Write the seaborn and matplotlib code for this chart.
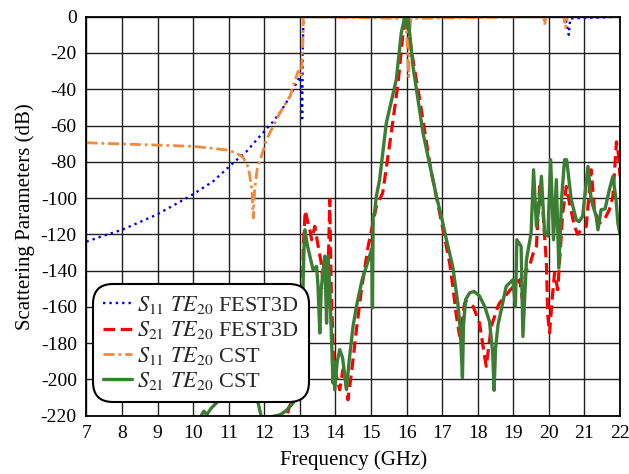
import numpy as np
import pandas as pd
import matplotlib
matplotlib.use("Agg")
import matplotlib.pyplot as plt
import seaborn as sns

# ---- data (frequency in GHz, magnitude in dB) ----
s11_fest_f = [7.0, 7.57, 8.0, 8.97, 9.91, 10.56, 11.12, 11.5, 11.87, 12.25, 12.44,
              12.72, 12.9, 13.0, 13.04, 13.065, 13.08, 13.1, 15.95, 16.0, 16.05,
              20.45, 20.5, 20.56, 20.6, 22.0]
s11_fest_db = [-124, -120.2, -117.5, -109.2, -99, -90.8, -80.7, -74.3, -66, -57.7, -53,
               -44, -36.6, -33, -40, -56, -20, 0, 0, -3, 0,
               0, -4, -10, -1, 0]

s21_fest_f = [12.55, 12.7, 12.85, 12.98, 13.05, 13.1, 13.15, 13.22, 13.28, 13.33, 13.42,
              13.5, 13.6, 13.65, 13.72, 13.8, 13.84, 13.88, 13.94, 13.98, 14.05, 14.12,
              14.21, 14.28, 14.35, 14.45, 14.59, 14.73, 14.92, 15.15, 15.33, 15.57,
              15.76, 15.9, 16.0, 16.13, 16.37, 16.65, 16.72, 17.02, 17.21, 17.3, 17.4,
              17.49, 17.55, 17.63, 17.68, 17.87, 18.05, 18.19, 18.24, 18.38, 18.57,
              18.61, 18.9, 19.18, 19.27, 19.35, 19.45, 19.55, 19.65, 19.74, 19.83,
              19.88, 19.93, 19.97, 20.02, 20.1, 20.16, 20.25, 20.39, 20.49, 20.58,
              20.72, 20.81, 20.91, 21.05, 21.19, 21.28, 21.42, 21.56, 21.7, 21.8,
              21.85, 21.9, 21.95, 22.0]
s21_fest_db = [-228, -215, -210, -200, -175, -125, -107, -113, -117.5, -123, -115.6,
               -125, -135.8, -146.8, -150, -135, -101, -150, -185, -194.6, -200, -205.7,
               -194.6, -200, -211.2, -196.5, -172.6, -150.5, -126.6, -104.6, -97, -64,
               -36.6, -9, 0, -18, -45.8, -80.7, -88, -117, -135.8, -148.7, -165,
               -176, -170, -158, -157, -159.7, -169, -187, -192.8, -170.8, -159.7,
               -158, -151, -145, -158, -140, -138, -131, -126.6, -93.6, -106.4,
               -121, -135.8, -165, -174.4, -154, -141.3, -150.5, -108, -93.6, -102.7,
               -115.6, -120, -117.5, -115.6, -84.4, -106.4, -113.8, -112, -106.4, -99,
               -84.4, -69, -75, -88]

s11_cst_f = [7.0, 8.0, 9.0, 10.0, 10.5, 10.94, 11.2, 11.4, 11.55, 11.65, 11.69, 11.73,
             11.8, 11.9, 12.06, 12.34, 12.44, 12.72, 12.95, 13.04, 13.08, 13.1,
             15.95, 16.0, 16.03, 16.06, 16.08, 16.12, 19.85, 19.88, 19.92,
             20.42, 20.47, 20.52, 22.0]
s11_cst_db = [-69.5, -70.2, -70.8, -71.5, -72.5, -73.5, -75, -77.5, -83, -95, -111, -95,
              -84, -78, -67.8, -56.8, -53, -44, -30, -33, -15, 0,
              -1, -8, -20, -33, -10, -1, 0, -4.5, 0,
              0, -6, 0, 0]

s21_cst_f = [10.15, 10.25, 10.3, 10.38, 10.5, 10.75, 11.0, 11.3, 11.6, 11.78, 11.92,
             12.1, 12.44, 12.6, 12.72, 12.81, 12.9, 13.0, 13.05, 13.09, 13.12, 13.14,
             13.2, 13.28, 13.37, 13.47, 13.51, 13.56, 13.6, 13.65, 13.7, 13.75, 13.79,
             13.84, 13.89, 13.93, 13.95, 13.98, 14.05, 14.12, 14.2, 14.31, 14.36,
             14.4, 14.5, 14.59, 14.75, 14.96, 15.02, 15.04, 15.06, 15.1, 15.15, 15.24,
             15.43, 15.71, 15.85, 15.95, 16.0, 16.04, 16.18, 16.46, 16.84, 17.02,
             17.12, 17.3, 17.44, 17.51, 17.57, 17.6, 17.66, 17.77, 17.9, 18.05, 18.2,
             18.33, 18.42, 18.46, 18.5, 18.57, 18.8, 18.99, 19.06, 19.1, 19.22, 19.27,
             19.37, 19.5, 19.57, 19.65, 19.72, 19.79, 19.88, 19.97, 20.05, 20.13,
             20.21, 20.28, 20.36, 20.44, 20.5, 20.63, 20.77, 20.85, 20.95, 21.1,
             21.19, 21.33, 21.38, 21.47, 21.58, 21.7, 21.8, 21.89, 21.94, 22.0]
s21_cst_db = [-226, -219, -217.5, -219.5, -216, -211, -203, -198, -202, -209, -221,
              -221, -219.5, -217.5, -215, -213, -209, -200, -180, -147, -125, -117.5,
              -125, -132, -139.5, -137.7, -148.7, -174.4, -150.5, -140, -132, -169, -132,
              -150, -178, -202, -190, -205.7, -190, -183.6, -188, -205.7, -195,
              -187, -170, -159.7, -145, -132, -128, -160.6, -110, -108, -99, -90,
              -58.6, -34.7, -9, 0, -6, 0, -27.4, -64, -99, -113.8,
              -123, -138, -158, -172.6, -199, -170, -156, -152.3, -151.5, -154, -160,
              -168, -185, -206, -183, -170, -148.7, -145, -159.7, -123, -126.6, -176.3,
              -134, -119.3, -84.4, -115.6, -105, -88, -119.3, -121, -78.9, -123,
              -89.9, -138.6, -100, -78.9, -78.9, -101, -112, -113, -110, -82.5,
              -101, -110, -117.5, -106.4, -106, -95.4, -88, -101, -113.8, -120]

labels = [r"$S_{11}$ $TE_{20}$ FEST3D", r"$S_{21}$ $TE_{20}$ FEST3D",
          r"$S_{11}$ $TE_{20}$ CST", r"$S_{21}$ $TE_{20}$ CST"]
x_ticks = list(range(7, 23))
y_ticks = list(range(-220, 1, 20))

# ---- style ----
sns.set_theme(style="white")
plt.rcParams.update({
    "font.family": ["Liberation Serif", "DejaVu Serif"],
    "mathtext.fontset": "stix",
    "axes.unicode_minus": False,
})

fig = plt.figure(figsize=(6.29, 4.74), dpi=100)
ax = fig.add_axes([0.1375, 0.123, 0.8482, 0.8418])

series = [
    (s11_fest_f, s11_fest_db, dict(color="#0000ff", linestyle=(0, (1.0, 1.7)), lw=1.7)),
    (s21_fest_f, s21_fest_db, dict(color="#ff0000", linestyle=(0, (3.6, 1.8)), lw=2.3)),
    (s11_cst_f, s11_cst_db, dict(color="#f28a3c", linestyle=(0, (4.0, 1.4, 1.0, 1.4)), lw=2.0)),
    (s21_cst_f, s21_cst_db, dict(color="#3b7d32", linestyle="-", lw=2.4)),
]

for (f, db, kw), lab in zip(series, labels):
    df = pd.DataFrame({"f": f, "db": db})
    sns.lineplot(data=df, x="f", y="db", ax=ax, sort=False, estimator=None,
                 label=lab, **kw)

ax.set_xlim(7, 22)
ax.set_ylim(-220, 0)
ax.set_xticks(x_ticks)
ax.set_yticks(y_ticks)
ax.grid(True, color="0.12", lw=1.0)
ax.set_axisbelow(True)
for s in ax.spines.values():
    s.set_color("black")
    s.set_linewidth(1.3)
ax.tick_params(direction="in", length=5, width=1.0, labelsize=14, pad=7,
               colors="black", labelcolor="black")
ax.set_xlabel("Frequency (GHz)", fontsize=15, color="black", labelpad=6)
ax.set_ylabel("Scattering Parameters (dB)", fontsize=15, color="black", labelpad=4)

leg = ax.legend(loc="lower left", bbox_to_anchor=(0.012, 0.034), borderaxespad=0,
                fontsize=16, frameon=True, fancybox=True, framealpha=1,
                handlelength=1.3, handletextpad=0.25, labelspacing=0.15,
                borderpad=0.45)
frame = leg.get_frame()
frame.set_edgecolor("black")
frame.set_linewidth(1.5)
frame.set_facecolor("white")
frame.set_boxstyle("round,pad=0,rounding_size=0.9")

fig.savefig("out.png", dpi=100)
